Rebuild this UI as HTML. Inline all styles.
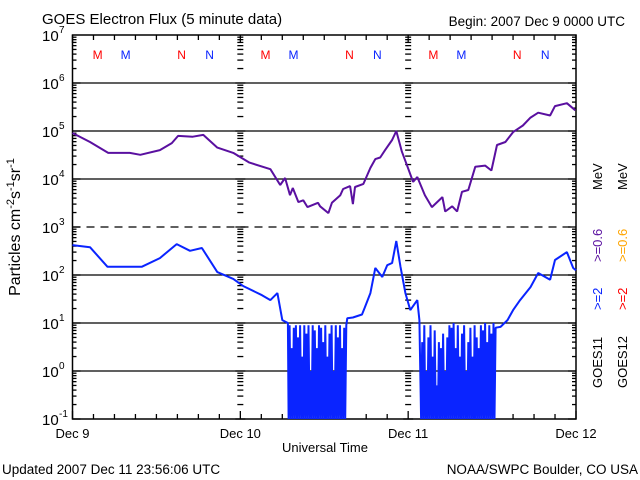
<!DOCTYPE html>
<html><head><meta charset="utf-8"><style>
body{margin:0;background:#fff;width:640px;height:480px;overflow:hidden}
svg{display:block;font-family:"Liberation Sans",sans-serif}
</style></head><body>
<svg id="chart" width="640" height="480" viewBox="0 0 640 480">
<text x="42" y="24" font-size="15">GOES Electron Flux (5 minute data)</text>
<text x="625" y="26" font-size="13.5" text-anchor="end">Begin: 2007 Dec 9 0000 UTC</text>
<text x="2" y="474" font-size="13.5">Updated 2007 Dec 11 23:56:06 UTC</text>
<text x="638" y="474" font-size="13.5" text-anchor="end">NOAA/SWPC Boulder, CO USA</text>
<text x="325" y="452" font-size="13" text-anchor="middle">Universal Time</text>
<text transform="translate(20,227) rotate(-90)" font-size="16" text-anchor="middle">Particles cm<tspan dy="-6" font-size="11">-2</tspan><tspan dy="6">s</tspan><tspan dy="-6" font-size="11">-1</tspan><tspan dy="6">sr</tspan><tspan dy="-6" font-size="11">-1</tspan></text>
<g font-size="13">
<text transform="translate(602,388) rotate(-90)" fill="#000">GOES11</text>
<text transform="translate(602,310) rotate(-90)" fill="#0a24ff">&gt;=2</text>
<text transform="translate(602,262) rotate(-90)" fill="#5a10a0">&gt;=0.6</text>
<text transform="translate(602,190) rotate(-90)" fill="#000">MeV</text>
<text transform="translate(627,388) rotate(-90)" fill="#000">GOES12</text>
<text transform="translate(627,310) rotate(-90)" fill="#f00">&gt;=2</text>
<text transform="translate(627,262) rotate(-90)" fill="#ffa500">&gt;=0.6</text>
<text transform="translate(627,190) rotate(-90)" fill="#000">MeV</text>
</g>
<g id="axes"></g>
<g id="series"></g>
</svg>
<script>
var dayLabels = ["Dec 9","Dec 10","Dec 11","Dec 12"];
var yExponents = [-1,0,1,2,3,4,5,6,7];
var purpleHours = [0,2.5,5.1,8.2,9.7,12.5,14.2,15.1,17.2,18.7,20.7,23.0,25.3,28.3,29.7,30.4,31.1,31.5,32.3,33.0,33.6,35.1,35.4,36.6,37.1,38.3,38.7,39.7,40.1,40.4,41.6,42.6,43.3,44.0,44.7,45.7,46.3,47.1,47.9,48.7,49.3,50.4,51.4,52.9,53.3,54.3,55.0,55.7,56.6,57.6,59.0,59.9,60.7,61.9,63.0,64.4,65.5,66.6,68.3,69.0,70.7,71.9];
var purpleValues = [9.1e4,5.9e4,3.5e4,3.5e4,3.2e4,4.0e4,5.6e4,7.9e4,7.6e4,8.3e4,4.5e4,3.5e4,2.2e4,1.6e4,7.5e3,1.05e4,4.6e3,6.5e3,3.3e3,3.6e3,2.6e3,3.2e3,2.7e3,1.95e3,3.2e3,4.6e3,6.2e3,7.1e3,3.0e3,6.8e3,7.9e3,1.7e4,2.6e4,2.8e4,4.0e4,6.5e4,1.0e5,3.7e4,1.8e4,8.7e3,1.1e4,4.6e3,2.6e3,4.2e3,2.1e3,2.7e3,2.1e3,5.4e3,5.9e3,1.8e4,1.9e4,1.5e4,5.1e4,5.9e4,9.5e4,1.3e5,1.9e5,2.4e5,2.1e5,3.3e5,3.8e5,2.7e5];
var blueHours = [0,2.5,5.0,8.2,9.9,12.5,14.9,16.8,18.5,20.7,23.0,24.4,27.1,28.3,29.3,30.0,30.8,
30.9,31.05,31.2,31.35,31.5,31.65,31.8,31.95,32.1,32.25,32.4,32.55,32.7,32.85,33.0,33.15,33.3,33.45,33.6,33.75,33.9,34.05,34.2,34.35,34.5,34.65,34.8,34.95,35.1,35.25,35.4,35.55,35.7,35.85,36.0,36.15,36.3,36.45,36.6,36.75,36.9,37.05,37.2,37.35,37.5,37.65,37.8,37.95,38.1,38.25,38.4,38.55,38.7,38.85,39.0,39.15,
39.3,40.1,41.4,41.8,42.6,43.3,44.3,45.0,45.7,46.3,46.9,47.6,48.3,49.3,49.6,
49.85,50.0,50.15,50.3,50.45,50.6,50.75,50.9,51.05,51.2,51.35,51.5,51.65,51.8,51.95,52.1,52.25,52.4,52.55,52.7,52.85,53.0,53.15,53.3,53.45,53.6,53.75,53.9,54.05,54.2,54.35,54.5,54.65,54.8,54.95,55.1,55.25,55.4,55.55,55.7,55.85,56.0,56.15,56.3,56.45,56.6,56.75,56.9,57.05,57.2,57.35,57.5,57.65,57.8,57.95,58.1,58.25,58.4,58.55,58.7,58.85,59.0,59.15,59.3,59.45,59.6,59.75,59.9,60.05,60.2,60.35,60.5,
61.2,62.2,63.0,64.0,65.5,66.6,68.3,69.0,70.7,71.6,72.0];
var blueValues = [420,380,148,148,148,225,440,320,365,115,83,59,38,30,42,11.5,10,
0.1,9,0.1,3,0.1,8,0.1,9,0.1,5,0.1,9,0.1,2,0.1,9,0.1,6,0.1,9,0.1,1,0.1,9,0.1,7,0.1,3,0.1,9,0.1,8,0.1,4,0.1,9,0.1,2,0.1,6,0.1,9,0.1,1,0.1,9,0.1,5,0.1,9,0.1,3,0.1,8,0.1,9,
12.6,13,15,21,42,140,91,160,178,510,148,42,18.6,30,11.5,
0.1,4,0.1,9,0.1,1,0.1,5,0.1,9,0.1,2,0.1,7,0.1,0.5,0.1,4,0.1,3,0.1,6,0.1,1,0.1,5,0.1,9,0.1,8,0.1,10,0.1,3,0.1,9,0.1,2,0.1,6,0.1,9,0.1,1,0.1,4,0.1,8,0.1,2,0.1,9,0.1,5,0.1,3,0.1,9,0.1,7,0.1,10,0.1,4,0.1,9,0.1,6,0.1,10,0.1,8,
8.3,11.5,18.6,30,56,110,80,205,300,140,125];
var markerLetters = ["M","M","N","N"];
var markerHours = [3.6,7.6,15.6,19.6];
var markerColors = ["#f00","#0a24ff","#f00","#0a24ff"];

var X0=72.5,X1=576,Y0=419,Y1=35;
function xs(h){return X0+(X1-X0)*h/72;}
function ys(v){var l=Math.log10(Math.max(v,0.1));return Y0-(l+1)*(Y0-Y1)/8;}
var NS="http://www.w3.org/2000/svg";
var axes=document.getElementById('axes'),series=document.getElementById('series');
function mk(tag,attrs,parent){var e=document.createElementNS(NS,tag);for(var k in attrs)e.setAttribute(k,attrs[k]);parent.appendChild(e);return e;}
function line(x1,y1,x2,y2,p,extra){var e=mk('line',{x1:x1,y1:y1,x2:x2,y2:y2,stroke:'#000','stroke-width':1.3},p);if(extra)e.setAttribute('stroke-dasharray',extra);return e;}

for(var i=1;i<yExponents.length-1;i++){
  var gy=ys(Math.pow(10,yExponents[i]));
  var g=line(X0,gy,X1,gy,axes,yExponents[i]===3?'8,6':null);
  
  
}
var fr=mk('rect',{x:X0,y:Y1,width:X1-X0,height:Y0-Y1,fill:'none',stroke:'#000','stroke-width':1.5},axes);


var tickXs=[X0,xs(24),xs(48),X1];
for(var e=-1;e<7;e++){for(var m=1;m<10;m++){
  var ty=ys(m*Math.pow(10,e));var len=(m===1)?8:4;
  tickXs.forEach(function(tx,j){
    var t;
    if(j===0)t=line(tx,ty,tx+len,ty,axes);
    else if(j===3)t=line(tx-len,ty,tx,ty,axes);
    else t=line(tx-len/2-1,ty,tx+len/2+1,ty,axes);
    
    
  });
}}
for(var h=0;h<=72;h+=3){
  var tx=xs(h),l=(h%24===0)?8:5;
  var t1=line(tx,Y0,tx,Y0-l,axes);
  
  
  var t2=line(tx,Y1,tx,Y1+l,axes);
  
  
}
dayLabels.forEach(function(d,i){
  var t=mk('text',{x:xs(i*24),y:438,'font-size':13,'text-anchor':'middle'},axes);
  t.textContent=d;
  
  
});
yExponents.forEach(function(ex){
  var yy=ys(Math.pow(10,ex));
  var t=mk('text',{x:42,y:yy+6,'font-size':15},axes);
  t.textContent='10';
  
  
  var s=mk('text',{x:59,y:yy-2,'font-size':10},axes);
  s.textContent=String(ex);
  
  
});
for(var d=0;d<3;d++){markerLetters.forEach(function(L,i){
  var t=mk('text',{x:xs(markerHours[i]+d*24),y:59,'font-size':12,'text-anchor':'middle',fill:markerColors[i]},axes);
  t.textContent=L;
  
  
});}
function path(hours,vals,color,name){
  var dstr='';
  for(var i=0;i<hours.length;i++){dstr+=(i?'L':'M')+xs(hours[i]).toFixed(1)+','+ys(vals[i]).toFixed(1);}
  var p=mk('path',{d:dstr,fill:'none',stroke:color,'stroke-width':2,'stroke-linejoin':'bevel'},series);
  
  
}
path(purpleHours,purpleValues,'#5a10a0','goes11-06mev-line');
path(blueHours,blueValues,'#0a24ff','goes11-2mev-line');
</script>
</body></html>
